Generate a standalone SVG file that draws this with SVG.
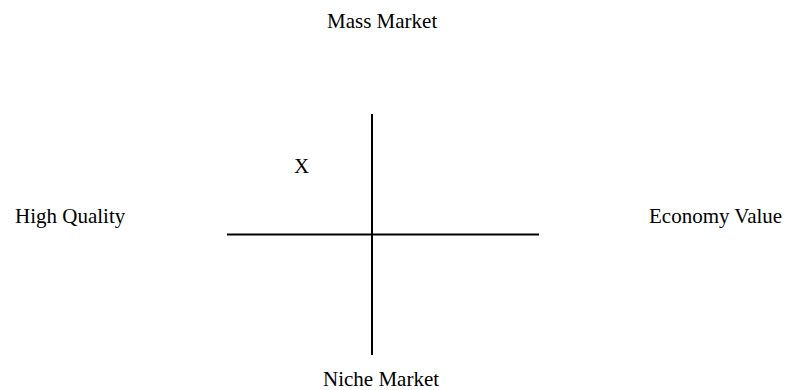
<svg xmlns="http://www.w3.org/2000/svg" width="790" height="390" viewBox="0 0 790 390">
<style>
.t{font-family:"Liberation Serif","Times New Roman",serif;font-size:21px;fill:#000}
.ax{stroke:#000;stroke-width:2;fill:none}
</style>
<rect width="790" height="390" fill="#fff"/>
<g id="connectors">
<line class="ax" x1="372" y1="114" x2="372" y2="355"/>
<line class="ax" x1="227" y1="234.5" x2="539" y2="234.5"/>
</g>
<g id="mass-market"><text class="t" x="327" y="28">Mass Market</text></g>
<g id="high-quality"><text class="t" x="15" y="223">High Quality</text></g>
<g id="economy-value"><text class="t" x="649" y="223">Economy Value</text></g>
<g id="niche-market"><text class="t" x="323" y="386">Niche Market</text></g>
<g id="x-mark"><text class="t" x="294" y="173">X</text></g>
</svg>
